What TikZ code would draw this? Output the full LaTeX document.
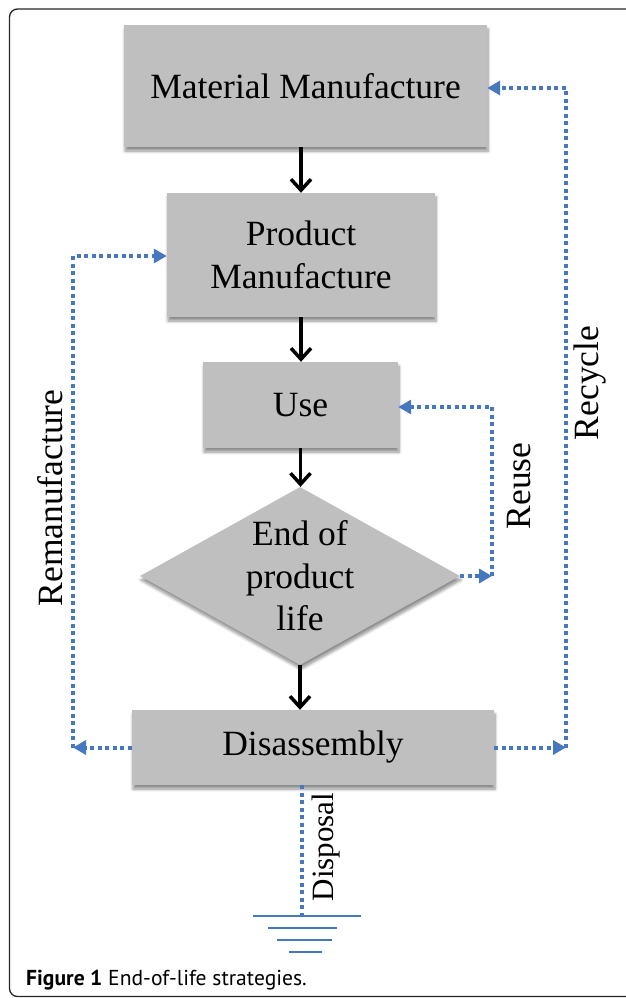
\documentclass[tikz,border=0pt]{standalone}
\usepackage{fontspec}
\setmainfont{Liberation Serif}
\newfontfamily\capfont{PT Sans}
\usetikzlibrary{arrows.meta,shapes.geometric,shadows.blur}
\definecolor{boxgray}{RGB}{191,191,191}
\definecolor{eolblue}{RGB}{70,120,192}
\begin{document}
\begin{tikzpicture}[x=1pt,y=-1pt,
  shad/.style={blur shadow={shadow xshift=1pt, shadow yshift=-4pt, shadow blur radius=3pt, shadow blur steps=6, shadow opacity=45}},
  box/.style={rectangle, draw=none, fill=boxgray, shad, inner sep=0pt, align=center,
    font=\fontsize{35.5}{42.5}\selectfont},
  dia/.style={diamond, draw=none, fill=boxgray, shad, inner sep=0pt, aspect=1.8,
    minimum width=320pt, minimum height=178pt},
  txt/.style={inner sep=0pt, align=center, font=\fontsize{35.5}{42.5}\selectfont},
  lbl/.style={inner sep=0pt, rotate=90, anchor=base, font=\fontsize{35.5}{42.5}\selectfont},
  blk/.style={line width=3.5pt, black, -{Straight Barb[length=11pt,width=20pt]}},
  blu/.style={line width=4pt, eolblue, dash pattern=on 4pt off 3.5pt},
  tip/.style={-{Triangle[length=13pt,width=14pt]}},
  gl/.style={line width=1.6pt, eolblue}]
\useasboundingbox (0,0) rectangle (625,998);
\draw[line width=1.3pt, black!85, rounded corners=8pt] (9.5,9) rectangle (680,996.5);

% boxes
\node[box, minimum width=363pt, minimum height=122pt] (mm) at (305.5,86) {Material Manufacture};
\node[box, minimum width=268pt, minimum height=124pt] (pm) at (301,255) {Product\\Manufacture};
\node[box, minimum width=195pt, minimum height=86pt] (use) at (300.5,405) {Use};
\node[dia] (eol) at (300,576) {};
\node[txt] (eoltxt) at (eol.center) {End of\\product\\life};
\node[box, minimum width=362pt, minimum height=75pt] (dis) at (313,747.5) {Disassembly};

% main flow
\draw[blk] (mm.south -| pm.north) -- (pm.north);
\draw[blk] (pm.south) -- (pm.south |- use.north);
\draw[blk] (use.south) -- (use.south |- eol.north);
\draw[blk] (eol.south) -- (eol.south |- dis.north);

% remanufacture
\coordinate (rmB) at (73,748);
\coordinate (rmT) at (73,256);
\draw[blu,tip] (dis.west) -- (dis.west -| rmB);
\draw[blu,tip] (dis.west -| rmB) -- (rmT) -- (rmT -| pm.west);
\node[lbl] (lrem) at (62,498) {Remanufacture};

% reuse
\coordinate (ruT) at (492,407);
\draw[blu,tip] (eol.east) -- (eol.east -| ruT);
\draw[blu,tip] (eol.east -| ruT) -- (ruT) -- (ruT -| use.east);
\node[lbl] (lreu) at (530,486) {Reuse};

% recycle
\coordinate (rcT) at (566,88);
\draw[blu,tip] (dis.east) -- (dis.east -| rcT);
\draw[blu,tip] (dis.east -| rcT) -- (rcT) -- (rcT -| mm.east);
\node[lbl] (lrec) at (598,383) {Recycle};

% disposal
\coordinate (gnd) at (302,916);
\draw[blu] (gnd |- dis.south) -- (gnd);
\node[lbl, font=\fontsize{31}{37}\selectfont] (ldis) at (333,847) {Disposal};
\draw[gl] ([xshift=-49pt]gnd) -- ([xshift=59pt]gnd);
\draw[gl] ([xshift=-34pt,yshift=-12pt]gnd) -- ([xshift=35pt,yshift=-12pt]gnd);
\draw[gl] ([xshift=-25pt,yshift=-24pt]gnd) -- ([xshift=30pt,yshift=-24pt]gnd);
\draw[gl] ([xshift=-13pt,yshift=-36pt]gnd) -- ([xshift=20pt,yshift=-36pt]gnd);

% caption
\node[anchor=base west, inner sep=0pt, font=\capfont\fontsize{21.6}{25}\selectfont] (cap) at (26,985)
  {\textbf{Figure 1} End-of-life strategies.};
\end{tikzpicture}
\end{document}
